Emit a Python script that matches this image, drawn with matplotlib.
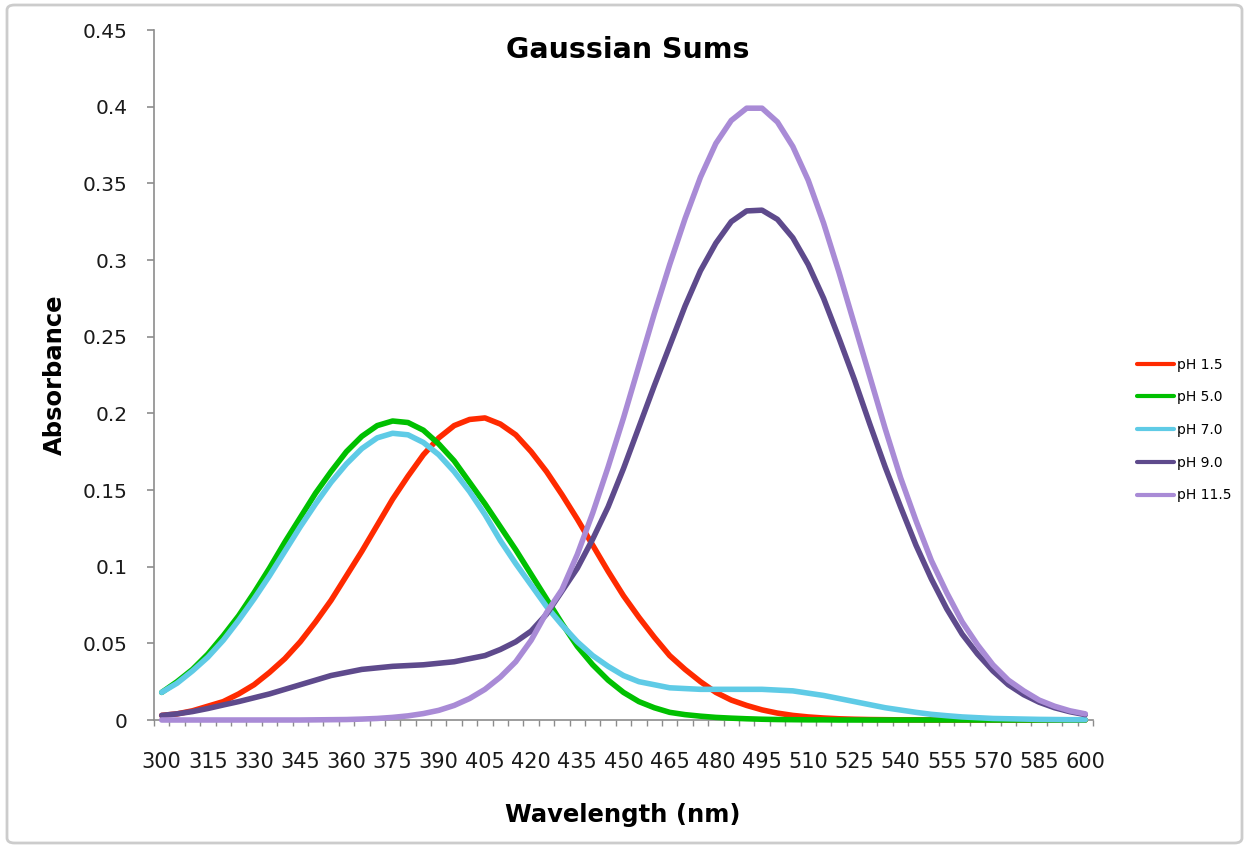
import matplotlib
matplotlib.use("Agg")
from matplotlib import pyplot as plt
from matplotlib.patches import FancyBboxPatch
import numpy as np

# categories (nm) and labelled ticks
wavelength = np.arange(300, 605, 5)
tick_wl = np.arange(300, 605, 15)

# absorbance, one value per 5 nm
ph_1_5 = [0.003, 0.004, 0.006, 0.009, 0.012, 0.017, 0.023, 0.031, 0.040, 0.051,
          0.064, 0.078, 0.094, 0.110, 0.127, 0.144, 0.159, 0.173, 0.184, 0.192,
          0.196, 0.197, 0.193, 0.186, 0.175, 0.162, 0.147, 0.131, 0.114, 0.097,
          0.081, 0.067, 0.054, 0.042, 0.033, 0.025, 0.018, 0.013, 0.0095, 0.0066,
          0.0045, 0.003, 0.002, 0.0013, 0.0008, 0.0005, 0.0003, 0.0002, 0.0001, 0.0001,
          0, 0, 0, 0, 0, 0, 0, 0, 0, 0,
          0]
ph_5_0 = [0.018, 0.025, 0.033, 0.043, 0.055, 0.068, 0.083, 0.099, 0.116, 0.132,
          0.148, 0.162, 0.175, 0.185, 0.192, 0.195, 0.194, 0.189, 0.180, 0.169,
          0.155, 0.141, 0.126, 0.111, 0.095, 0.079, 0.063, 0.048, 0.036, 0.026,
          0.018, 0.012, 0.008, 0.005, 0.0035, 0.0025, 0.0017, 0.0012, 0.0008, 0.0005,
          0.0003, 0.0002, 0.0001, 0.0001, 0, 0, 0, 0, 0, 0,
          0, 0, 0, 0, 0, 0, 0, 0, 0, 0,
          0]
ph_7_0 = [0.018, 0.024, 0.032, 0.041, 0.052, 0.065, 0.079, 0.094, 0.110, 0.126,
          0.141, 0.155, 0.167, 0.177, 0.184, 0.187, 0.186, 0.181, 0.173, 0.162,
          0.149, 0.134, 0.117, 0.102, 0.088, 0.074, 0.062, 0.051, 0.042, 0.035,
          0.029, 0.025, 0.023, 0.021, 0.0205, 0.020, 0.020, 0.020, 0.020, 0.020,
          0.0195, 0.019, 0.0175, 0.016, 0.014, 0.012, 0.010, 0.008, 0.0065, 0.005,
          0.0037, 0.0028, 0.002, 0.0015, 0.001, 0.0008, 0.0006, 0.0004, 0.0003, 0.0002,
          0.0002]
ph_9_0 = [0.003, 0.004, 0.0055, 0.0075, 0.0098, 0.012, 0.0145, 0.017, 0.020, 0.023,
          0.026, 0.029, 0.031, 0.033, 0.034, 0.035, 0.0355, 0.036, 0.037, 0.038,
          0.040, 0.042, 0.046, 0.051, 0.058, 0.069, 0.084, 0.099, 0.118, 0.139,
          0.164, 0.191, 0.218, 0.244, 0.270, 0.293, 0.311, 0.325, 0.332, 0.3325,
          0.3265, 0.3145, 0.297, 0.275, 0.249, 0.222, 0.193, 0.165, 0.139, 0.114,
          0.092, 0.0725, 0.056, 0.043, 0.032, 0.023, 0.0165, 0.0116, 0.008, 0.0054,
          0.0035]
ph_11_5 = [0, 0, 0, 0, 0, 0, 0, 0, 0, 0,
           0.0001, 0.0002, 0.0003, 0.0006, 0.001, 0.0017, 0.0027, 0.0042, 0.0063, 0.0095,
           0.014, 0.020, 0.028, 0.038, 0.052, 0.070, 0.085, 0.108, 0.135, 0.165,
           0.197, 0.231, 0.265, 0.297, 0.327, 0.354, 0.376, 0.391, 0.399, 0.399,
           0.390, 0.374, 0.352, 0.324, 0.292, 0.258, 0.224, 0.190, 0.158, 0.130,
           0.104, 0.083, 0.064, 0.049, 0.036, 0.026, 0.019, 0.013, 0.009, 0.006,
           0.004]

series = [ph_1_5, ph_5_0, ph_7_0, ph_9_0, ph_11_5]
labels = ["pH 1.5", "pH 5.0", "pH 7.0", "pH 9.0", "pH 11.5"]
colors = ["#ff2a00", "#00c000", "#5fcbe6", "#5e4a8c", "#a98bd6"]

plt.rcParams['font.family'] = 'DejaVu Sans'
W, H = 1249, 848

fig = plt.figure(figsize=(W / 100, H / 100), dpi=100)
ax = fig.add_axes([154 / W, 1 - 720 / H, (1093 - 154) / W, 690 / H])

for ys, lab, c in zip(series, labels, colors):
    ax.plot(wavelength, ys, color=c, lw=4, label=lab, clip_on=False, zorder=3,
            solid_joinstyle="round", solid_capstyle="round")

ax.set_xlim(297.5, 602.5)
ax.set_ylim(0, 0.45)

ax.set_yticks(np.arange(0, 0.451, 0.05))
ax.set_yticklabels(["{:g}".format(round(v, 2)) for v in np.arange(0, 0.451, 0.05)])
ax.set_xticks(tick_wl)
ax.set_xticklabels([str(v) for v in tick_wl])
ax.set_xticks(np.arange(297.5, 603, 5), minor=True)

grey = "#8c8c8c"
for s in ["top", "right"]:
    ax.spines[s].set_visible(False)
for s in ["left", "bottom"]:
    ax.spines[s].set_color(grey)
    ax.spines[s].set_linewidth(1.2)

ax.tick_params(axis="y", direction="out", length=5, width=1.2, color=grey,
               pad=14, labelsize=14.5, labelcolor="#1a1a1a")
ax.tick_params(axis="x", which="major", length=0, pad=23, labelsize=15, labelcolor="#1a1a1a")
ax.tick_params(axis="x", which="minor", direction="out", length=4, width=1, color=grey)

fig.text(628 / W, 1 - 50 / H, "Gaussian Sums", ha="center", va="center",
         fontsize=20.5, fontweight="bold")
fig.text(55 / W, 1 - 375 / H, "Absorbance", ha="center", va="center", rotation=90,
         fontsize=17.5, fontweight="bold")
fig.text(623 / W, 1 - 815 / H, "Wavelength (nm)", ha="center", va="center",
         fontsize=17.5, fontweight="bold")

leg = ax.legend(loc="center left", bbox_to_anchor=(1130 / W, 1 - 430 / H),
                bbox_transform=fig.transFigure, frameon=False, fontsize=10,
                handlelength=2.7, handletextpad=0.15, labelspacing=1.35, borderpad=0)
for h in leg.get_lines():
    h.set_linewidth(3)

fig.patches.append(FancyBboxPatch((7 / W, 5 / H), (1242 - 7) / W, (843 - 5) / H,
                                  boxstyle="round,pad=0,rounding_size=0.006",
                                  transform=fig.transFigure, fc="none", ec="#cccccc", lw=2))

fig.savefig("out.png", dpi=100)
